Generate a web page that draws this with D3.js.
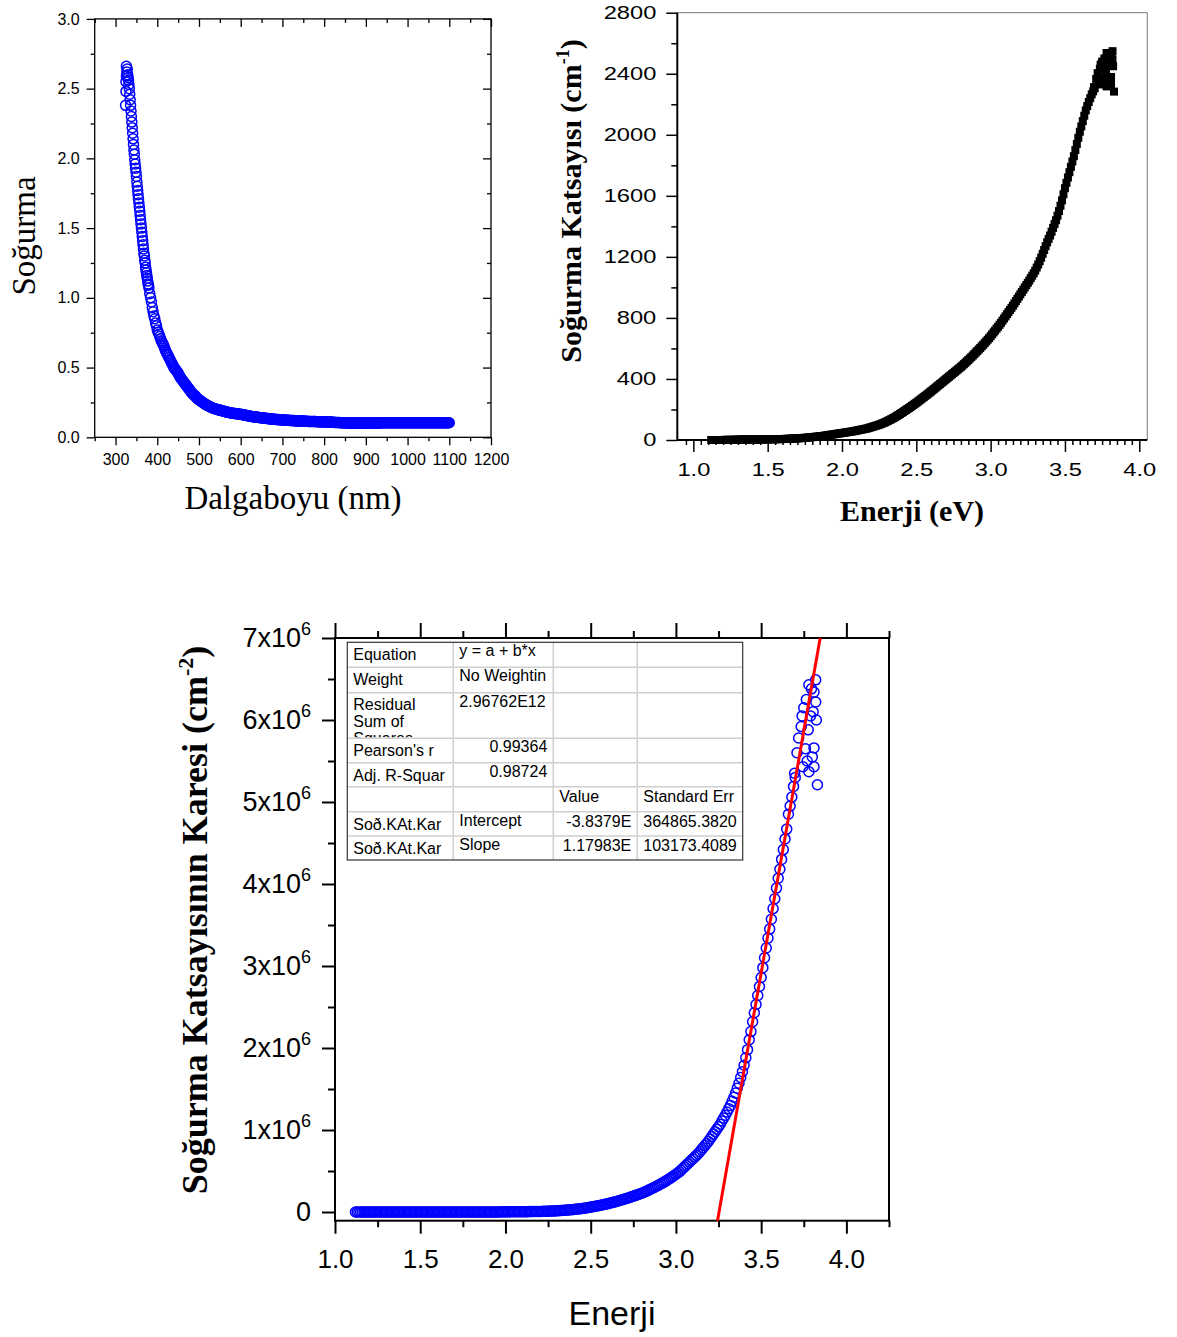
<!DOCTYPE html>
<html>
<head>
<meta charset="utf-8">
<script src="https://cdnjs.cloudflare.com/ajax/libs/d3/7.8.5/d3.min.js"></script>
<style>
body { margin: 0; background: #fff; }
svg { display: block; }
</style>
</head>
<body>
<svg id="chart" width="1177" height="1337"></svg>
<script>
/* ---- top left: absorbance (Soğurma) vs wavelength ---- */
var wavelength = [
  324,325,325,326,326,327,328,329,
  330,331,332,333,334,335,336,337,338,339,
  340,341,342,343,344,345,346,347,348,349,
  350,351,352,353,354,355,356,357,358,359,
  360,361,362,363,364,365,366,367,368,369,
  370,371,372,373,374,375,376,377,378,379,
  380,382,384,386,388,390,392,394,396,398,400,
  402,404,406,408,410,412,414,416,418,420,
  422,424,426,428,430,432,434,436,438,440,
  442,444,446,448,450,452,454,456,458,460,
  462,464,466,468,470,472,474,476,478,480,
  482,484,486,488,490,492,494,496,498,500,
  502,504,506,508,510,512,514,516,518,520,
  522,524,526,528,530,532,534,536,538,540,
  542,544,546,548,550,552,554,556,558,560,
  562,564,566,568,570,572,574,576,578,580,
  582,584,586,588,590,592,594,596,598,600,
  602,604,606,608,610,612,614,616,618,620,
  622,624,626,628,630,632,634,636,638,640,
  642,644,646,648,650,652,654,656,658,660,
  662,664,666,668,670,672,674,676,678,680,
  682,684,686,688,690,692,694,696,698,700,
  702,704,706,708,710,712,714,716,718,720,
  722,724,726,728,730,732,734,736,738,740,
  742,744,746,748,750,752,754,756,758,760,
  762,764,766,768,770,772,774,776,778,780,
  782,784,786,788,790,792,794,796,798,800,
  802,804,806,808,810,812,814,816,818,820,
  822,824,826,828,830,832,834,836,838,840,
  842,844,846,848,850,852,854,856,858,860,
  862,864,866,868,870,872,874,876,878,880,
  882,884,886,888,890,892,894,896,898,900,
  902,904,906,908,910,912,914,916,918,920,
  922,924,926,928,930,932,934,936,938,940,
  942,944,946,948,950,952,954,956,958,960,
  962,964,966,968,970,972,974,976,978,980,
  982,984,986,988,990,992,994,996,998,1000,
  1002,1004,1006,1008,1010,1012,1014,1016,1018,1020,
  1022,1024,1026,1028,1030,1032,1034,1036,1038,1040,
  1042,1044,1046,1048,1050,1052,1054,1056,1058,1060,
  1062,1064,1066,1068,1070,1072,1074,1076,1078,1080,
  1082,1084,1086,1088,1090,1092,1094,1096,1098,1100
];
var absorbance = [
  2.38,2.48,2.55,2.59,2.66,2.62,2.64,2.60,
  2.58,2.56,2.53,2.50,2.46,2.42,2.38,2.34,2.30,2.26,
  2.22,2.18,2.14,2.10,2.06,2.03,1.99,1.96,1.93,1.90,
  1.87,1.83,1.80,1.77,1.74,1.71,1.68,1.65,1.62,1.59,
  1.56,1.53,1.50,1.47,1.44,1.41,1.38,1.35,1.32,1.30,
  1.27,1.25,1.22,1.20,1.18,1.16,1.14,1.12,1.10,1.09,
  1.07,1.03,1.00,0.97,0.93,0.90,0.87,0.85,0.82,0.80,0.77,
  0.754,0.738,0.722,0.706,0.690,0.678,0.666,0.652,0.636,0.620,
  0.608,0.596,0.584,0.572,0.560,0.548,0.536,0.524,0.512,0.500,
  0.492,0.484,0.476,0.468,0.460,0.448,0.436,0.426,0.418,0.410,
  0.402,0.394,0.386,0.378,0.370,0.362,0.354,0.346,0.338,0.330,
  0.322,0.314,0.308,0.304,0.300,0.292,0.284,0.278,0.274,0.270,
  0.265,0.260,0.256,0.252,0.248,0.244,0.240,0.236,0.232,0.229,
  0.226,0.223,0.220,0.217,0.214,0.212,0.209,0.207,0.205,0.203,
  0.201,0.200,0.198,0.196,0.195,0.193,0.192,0.190,0.188,0.187,
  0.185,0.184,0.182,0.180,0.179,0.178,0.176,0.175,0.174,0.173,
  0.172,0.171,0.171,0.170,0.169,0.168,0.167,0.166,0.166,0.165,
  0.164,0.163,0.161,0.160,0.159,0.158,0.157,0.155,0.154,0.153,
  0.152,0.151,0.149,0.148,0.148,0.147,0.146,0.145,0.145,0.144,
  0.143,0.142,0.141,0.141,0.140,0.139,0.138,0.138,0.137,0.136,
  0.135,0.134,0.134,0.133,0.132,0.132,0.131,0.131,0.130,0.130,
  0.129,0.128,0.128,0.127,0.127,0.126,0.126,0.126,0.125,0.125,
  0.124,0.124,0.124,0.123,0.123,0.122,0.122,0.122,0.121,0.121,
  0.120,0.120,0.120,0.119,0.119,0.118,0.118,0.118,0.117,0.117,
  0.117,0.116,0.116,0.116,0.116,0.115,0.115,0.115,0.115,0.115,
  0.114,0.114,0.114,0.114,0.114,0.113,0.113,0.113,0.113,0.113,
  0.112,0.112,0.112,0.112,0.112,0.111,0.111,0.111,0.111,0.111,
  0.110,0.110,0.110,0.110,0.110,0.109,0.109,0.109,0.108,0.108,
  0.108,0.108,0.107,0.107,0.107,0.106,0.106,0.106,0.105,0.105,
  0.105,0.105,0.104,0.104,0.104,0.103,0.103,0.103,0.103,0.103,
  0.102,0.102,0.102,0.102,0.102,0.102,0.102,0.102,0.102,0.102,
  0.102,0.102,0.102,0.102,0.102,0.102,0.102,0.102,0.102,0.102,
  0.102,0.102,0.103,0.103,0.103,0.103,0.103,0.103,0.103,0.103,
  0.103,0.103,0.103,0.103,0.103,0.103,0.103,0.104,0.104,0.104,
  0.104,0.104,0.104,0.104,0.104,0.104,0.104,0.104,0.104,0.104,
  0.104,0.104,0.104,0.104,0.104,0.104,0.104,0.104,0.104,0.104,
  0.104,0.104,0.104,0.104,0.104,0.104,0.104,0.104,0.104,0.104,
  0.104,0.104,0.104,0.104,0.104,0.104,0.104,0.104,0.104,0.104,
  0.104,0.104,0.104,0.104,0.104,0.104,0.104,0.104,0.104,0.104,
  0.104,0.104,0.104,0.104,0.104,0.104,0.104,0.104,0.104,0.104,
  0.104,0.104,0.104,0.104,0.104,0.104,0.104,0.104,0.104,0.104,
  0.104,0.104,0.104,0.104,0.104,0.104,0.104,0.104,0.104,0.104
];
var wlTicks = [300,400,500,600,700,800,900,1000,1100,1200];
var wlMinor = [250,350,450,550,650,750,850,950,1050,1150];
var absTicks = [0,0.5,1.0,1.5,2.0,2.5,3.0];
var absMinor = [0.25,0.75,1.25,1.75,2.25,2.75];

/* ---- photon energy of the same measurement (eV), used by both lower-energy plots ---- */
var energy = [
  1.12,1.13,1.14,1.15,1.16,1.17,1.18,1.19,1.20,1.21,
  1.22,1.23,1.24,1.25,1.26,1.27,1.28,1.29,1.30,1.31,
  1.32,1.33,1.34,1.35,1.36,1.37,1.38,1.39,1.40,1.41,
  1.42,1.43,1.44,1.45,1.46,1.47,1.48,1.49,1.50,1.51,
  1.52,1.53,1.54,1.55,1.56,1.57,1.58,1.59,1.60,1.61,
  1.62,1.63,1.64,1.65,1.66,1.67,1.68,1.69,1.70,1.71,
  1.72,1.73,1.74,1.75,1.76,1.77,1.78,1.79,1.80,1.81,
  1.82,1.83,1.84,1.85,1.86,1.87,1.88,1.89,1.90,1.91,
  1.92,1.93,1.94,1.95,1.96,1.97,1.98,1.99,2.00,2.01,
  2.02,2.03,2.04,2.05,2.06,2.07,2.08,2.09,2.10,2.11,
  2.12,2.13,2.14,2.15,2.16,2.17,2.18,2.19,2.20,2.21,
  2.22,2.23,2.24,2.25,2.26,2.27,2.28,2.29,2.30,2.31,
  2.32,2.33,2.34,2.35,2.36,2.37,2.38,2.39,2.40,2.41,
  2.42,2.43,2.44,2.45,2.46,2.47,2.48,2.49,2.50,2.51,
  2.52,2.53,2.54,2.55,2.56,2.57,2.58,2.59,2.60,2.61,
  2.62,2.63,2.64,2.65,2.66,2.67,2.68,2.69,2.70,2.71,
  2.72,2.73,2.74,2.75,2.76,2.77,2.78,2.79,2.80,2.81,
  2.82,2.83,2.84,2.85,2.86,2.87,2.88,2.89,2.90,2.91,
  2.92,2.93,2.94,2.95,2.96,2.97,2.98,2.99,3.00,3.01,
  3.02,3.03,3.04,3.05,3.06,3.07,3.08,3.09,3.10,3.11,
  3.12,3.13,3.14,3.15,3.16,3.17,3.18,3.19,3.20,3.21,
  3.22,3.23,3.24,3.25,3.26,3.27,3.28,3.29,3.30,3.31,
  3.32,3.33,3.34,3.35,3.36,3.37,3.38,3.39,3.40,3.41,
  3.42,3.43,3.44,3.45,3.46,3.47,3.48,3.49,3.50,3.51,
  3.52,3.53,3.54,3.55,3.56,3.57,3.58,3.59,3.60,3.61,
  3.62,3.63,3.64,3.65,3.66,3.67,3.68,3.69,3.70,
  3.696,3.71,3.72,3.735,3.745,3.75,3.76,3.776,3.78,3.78,
  3.79,3.80,3.81,3.81,3.81,3.82,3.82,3.824,3.83,3.74,
  3.765,3.795,3.805,3.77
];

/* ---- top right: absorption coefficient (cm^-1) ---- */
var alpha = [
  0,0,0,0,0,0,0,0,0,1,
  1,1,1,1,1,1,2,2,2,2,
  3,3,4,4,4,3,3,3,3,3,
  3,3,3,3,4,4,4,4,4,5,
  5,5,5,5,5,6,6,6,6,7,
  7,8,8,8,9,9,10,10,11,11,
  12,13,14,14,15,16,17,18,19,20,
  21,22,23,24,25,26,28,29,31,32,
  34,35,37,38,40,41,43,44,46,47,
  49,50,52,53,55,56,58,60,62,64,
  66,68,70,72,74,76,79,82,85,88,
  91,94,97,100,104,108,112,116,121,126,
  131,136,141,146,152,158,164,170,177,183,
  190,196,203,209,216,223,230,237,244,251,
  259,266,274,281,289,296,304,311,319,327,
  335,343,351,359,367,375,383,391,399,407,
  415,423,431,439,447,455,463,471,479,488,
  497,506,515,524,534,543,553,563,573,583,
  593,603,614,624,635,646,657,668,680,692,
  705,717,730,742,755,768,782,796,810,824,
  838,852,866,880,895,910,925,940,955,970,
  985,1000,1015,1030,1045,1061,1077,1093,1110,1130,
  1150,1172,1195,1220,1245,1270,1295,1318,1340,1365,
  1390,1415,1440,1470,1500,1535,1570,1610,1650,1685,
  1720,1755,1790,1825,1860,1900,1940,1980,2020,2055,
  2090,2125,2160,2188,2215,2240,2265,2285,2305,
  2313,2366,2404,2433,2330,2480,2377,2425,2536,2317,
  2460,2356,2518,2379,2330,2548,2494,2449,2283,2460,
  2500,2526,2470,2345
];
var eTicksA = [1.0,1.5,2.0,2.5,3.0,3.5,4.0];
var alphaTicks = [0,400,800,1200,1600,2000,2400,2800];
var alphaMinor = [200,600,1000,1400,1800,2200,2600];

/* ---- bottom: square of absorption coefficient (x10^6 cm^-2) ---- */
var alphaSq = [
  0,0,0,0,0,0,0,0,0,0,
  0,0,0,0,0,0,0,0,0,0,
  0,0,0,0,0,0,0,0,0,0,
  0,0,0,0,0,0,0,0,0,0,
  0,0,0,0,0,0,0,0,0,0,
  0.0001,0.0001,0.0001,0.0001,0.0001,0.0001,0.0001,0.0001,0.0001,0.0001,
  0.0001,0.0002,0.0002,0.0002,0.0002,0.0003,0.0003,0.0003,0.0004,0.0004,
  0.0004,0.0005,0.0005,0.0006,0.0006,0.0007,0.0008,0.0008,0.0009,0.001,
  0.0012,0.0012,0.0014,0.0014,0.0016,0.0017,0.0018,0.0019,0.0021,0.0022,
  0.0024,0.0025,0.0027,0.0028,0.003,0.0031,0.0034,0.0036,0.0038,0.0041,
  0.0044,0.0046,0.0049,0.0052,0.0055,0.0058,0.0062,0.0067,0.0072,0.0077,
  0.0083,0.0088,0.0094,0.010,0.011,0.012,0.013,0.013,0.015,0.016,
  0.017,0.018,0.020,0.021,0.023,0.025,0.027,0.029,0.031,0.033,
  0.036,0.038,0.041,0.044,0.047,0.050,0.053,0.056,0.060,0.063,
  0.067,0.071,0.075,0.079,0.083,0.088,0.092,0.097,0.102,0.107,
  0.112,0.118,0.123,0.129,0.135,0.141,0.147,0.153,0.160,0.166,
  0.172,0.179,0.186,0.193,0.200,0.207,0.215,0.222,0.230,0.239,
  0.248,0.257,0.267,0.277,0.287,0.297,0.308,0.319,0.330,0.341,
  0.353,0.365,0.377,0.390,0.403,0.417,0.430,0.445,0.460,0.475,
  0.49,0.51,0.53,0.55,0.57,0.59,0.61,0.63,0.65,0.67,
  0.69,0.71,0.735,0.76,0.785,0.81,0.835,0.86,0.89,0.92,
  0.95,0.98,1.01,1.04,1.07,1.11,1.145,1.18,1.22,1.26,
  1.30,1.35,1.40,1.45,1.51,1.57,1.64,1.71,1.79,1.88,
  1.98,2.10,2.20,2.32,2.43,2.53,2.64,2.75,2.86,2.98,
  3.10,3.22,3.34,3.45,3.57,3.70,3.82,3.95,4.07,4.18,
  4.30,4.42,4.55,4.67,4.85,4.95,5.06,5.19,5.30,
  5.35,5.60,5.78,5.92,5.43,6.15,5.65,5.88,6.43,5.37,
  6.05,5.55,6.34,5.66,5.43,6.49,6.22,6.00,5.21,6.05,
  6.25,6.38,6.10,5.50
];
var fitIntercept = -3.8379e7;
var fitSlope = 1.17983e7;
var eTicksB = [1.0,1.5,2.0,2.5,3.0,3.5,4.0];
var eMinorB = [1.25,1.75,2.25,2.75,3.25,3.75,4.25];
var sqTicks = [0,1,2,3,4,5,6,7];
var sqMinor = [0.5,1.5,2.5,3.5,4.5,5.5,6.5];
var fitTable = [
  ["Equation", "y = a + b*x", "", ""],
  ["Weight", "No Weightin", "", ""],
  ["Residual|Sum of|Squares", "2.96762E12", "", ""],
  ["Pearson's r", "0.99364", "", ""],
  ["Adj. R-Squar", "0.98724", "", ""],
  ["", "", "Value", "Standard Err"],
  ["Soð.KAt.Kar", "Intercept", "-3.8379E", "364865.3820"],
  ["Soð.KAt.Kar", "Slope", "1.17983E", "103173.4089"]
];

var SANS = '"Liberation Sans", Arial, sans-serif';
var SERIF = '"Liberation Serif", "Times New Roman", serif';
var svg = d3.select("#chart");

function styleAxis(sel, size, width) {
  sel.select(".domain").remove();
  sel.selectAll(".tick line").attr("stroke", "#000").attr("stroke-width", width);
  sel.selectAll(".tick text").attr("fill", "#000").attr("font-size", size).attr("font-family", SANS);
}

/* ================= chart 1 ================= */
var x1 = d3.scaleLinear().domain([250, 1200]).range([94.7, 491]);
var y1 = d3.scaleLinear().domain([0, 3]).range([437.3, 18.9]);
var g1 = svg.append("g");

g1.append("g").attr("transform", "translate(0," + y1(0) + ")")
  .call(d3.axisBottom(x1).tickValues(wlMinor).tickSize(4).tickFormat(""))
  .call(styleAxis, 16, 1.3);
g1.append("g").attr("transform", "translate(0," + y1(0) + ")")
  .call(d3.axisBottom(x1).tickValues(wlTicks).tickSize(8).tickPadding(8).tickFormat(d3.format("d")))
  .call(styleAxis, 16, 1.3);
g1.append("g").attr("transform", "translate(0," + y1(3) + ")")
  .call(d3.axisTop(x1).tickValues(wlMinor).tickSize(-4).tickFormat(""))
  .call(styleAxis, 16, 1.3);
g1.append("g").attr("transform", "translate(0," + y1(3) + ")")
  .call(d3.axisTop(x1).tickValues(wlTicks).tickSize(-8).tickFormat(""))
  .call(styleAxis, 16, 1.3);
g1.append("g").attr("transform", "translate(" + x1(250) + ",0)")
  .call(d3.axisLeft(y1).tickValues(absMinor).tickSize(4).tickFormat(""))
  .call(styleAxis, 16, 1.3);
g1.append("g").attr("transform", "translate(" + x1(250) + ",0)")
  .call(d3.axisLeft(y1).tickValues(absTicks).tickSize(8).tickPadding(7).tickFormat(d3.format(".1f")))
  .call(styleAxis, 16, 1.3);
g1.append("g").attr("transform", "translate(" + x1(1200) + ",0)")
  .call(d3.axisRight(y1).tickValues(absMinor).tickSize(-4).tickFormat(""))
  .call(styleAxis, 16, 1.3);
g1.append("g").attr("transform", "translate(" + x1(1200) + ",0)")
  .call(d3.axisRight(y1).tickValues(absTicks).tickSize(-8).tickFormat(""))
  .call(styleAxis, 16, 1.3);

g1.append("rect")
  .attr("x", x1(250)).attr("y", y1(3))
  .attr("width", x1(1200) - x1(250)).attr("height", y1(0) - y1(3))
  .attr("fill", "none").attr("stroke", "#000").attr("stroke-width", 1.3);

g1.append("g").selectAll("circle")
  .data(wavelength)
  .enter().append("circle")
  .attr("cx", function(d) { return x1(d); })
  .attr("cy", function(d, i) { return y1(absorbance[i]); })
  .attr("r", 5)
  .attr("fill", "none")
  .attr("stroke", "#0000ff")
  .attr("stroke-width", 1.5);

g1.append("text")
  .attr("transform", "translate(35,236) rotate(-90)")
  .attr("text-anchor", "middle")
  .attr("font-family", SERIF).attr("font-size", 33)
  .text("Soğurma");
g1.append("text")
  .attr("x", 293).attr("y", 509)
  .attr("text-anchor", "middle")
  .attr("font-family", SERIF).attr("font-size", 33)
  .text("Dalgaboyu (nm)");

/* ================= chart 2 ================= */
var x2 = d3.scaleLinear().domain([0.892, 4.054]).range([677.3, 1147.3]);
var y2 = d3.scaleLinear().domain([0, 2800]).range([440, 12.7]);
var g2 = svg.append("g");
var eMinorA = [0.95];
eTicksA.forEach(function(t) { for (var k = 1; k < 10; k++) if (t < 4) eMinorA.push(t + k * 0.05); });

function stretch(sel) {
  sel.selectAll(".tick text").each(function() {
    var w = this.getComputedTextLength();
    d3.select(this).attr("textLength", w * 1.28).attr("lengthAdjust", "spacingAndGlyphs");
  });
}

// thin frame on top and right
g2.append("path")
  .attr("d", "M" + x2.range()[0] + "," + y2(2800) + "H" + x2.range()[1] + "V" + y2(0))
  .attr("fill", "none").attr("stroke", "#7a7a7a").attr("stroke-width", 1);

g2.append("g").attr("transform", "translate(0," + y2(0) + ")")
  .call(d3.axisBottom(x2).tickValues(eMinorA).tickSize(5).tickFormat(""))
  .call(styleAxis, 18.5, 1.5);
g2.append("g").attr("transform", "translate(0," + y2(0) + ")")
  .call(d3.axisBottom(x2).tickValues(eTicksA).tickSize(12).tickPadding(11).tickFormat(d3.format(".1f")))
  .call(styleAxis, 18.5, 1.5)
  .call(stretch);
g2.append("g").attr("transform", "translate(" + x2.range()[0] + ",0)")
  .call(d3.axisLeft(y2).tickValues(alphaMinor).tickSize(6).tickFormat(""))
  .call(styleAxis, 18.5, 1.5);
g2.append("g").attr("transform", "translate(" + x2.range()[0] + ",0)")
  .call(d3.axisLeft(y2).tickValues(alphaTicks).tickSize(11).tickPadding(10).tickFormat(d3.format("d")))
  .call(styleAxis, 18.5, 1.5)
  .call(stretch);

g2.append("path")
  .attr("d", "M" + x2.range()[0] + "," + y2(2800) + "V" + y2(0) + "H" + x2.range()[1])
  .attr("fill", "none").attr("stroke", "#000").attr("stroke-width", 2);

g2.append("g").selectAll("rect")
  .data(energy)
  .enter().append("rect")
  .attr("x", function(d) { return x2(d) - 4; })
  .attr("y", function(d, i) { return y2(alpha[i]) - 4; })
  .attr("width", 8).attr("height", 8)
  .attr("fill", "#000");

var yl2 = g2.append("text")
  .attr("transform", "translate(581,201) rotate(-90)")
  .attr("text-anchor", "middle")
  .attr("font-family", SERIF).attr("font-size", 30).attr("font-weight", "bold");
yl2.append("tspan").text("Soğurma Katsayısı (cm");
yl2.append("tspan").attr("dy", -12).attr("font-size", 18).text("-1");
yl2.append("tspan").attr("dy", 12).text(")");

g2.append("text")
  .attr("x", 912).attr("y", 521)
  .attr("text-anchor", "middle")
  .attr("font-family", SERIF).attr("font-size", 30).attr("font-weight", "bold")
  .text("Enerji (eV)");

/* ================= chart 3 ================= */
var x3 = d3.scaleLinear().domain([1.0, 4.25]).range([335, 889]);
var y3 = d3.scaleLinear().domain([-0.106, 7]).range([1220.7, 638]);
var g3 = svg.append("g");

g3.append("g").attr("transform", "translate(0," + y3.range()[0] + ")")
  .call(d3.axisBottom(x3).tickValues(eMinorB).tickSize(6.5).tickFormat(""))
  .call(styleAxis, 26, 2);
g3.append("g").attr("transform", "translate(0," + y3.range()[0] + ")")
  .call(d3.axisBottom(x3).tickValues(eTicksB).tickSize(13).tickPadding(16).tickFormat(d3.format(".1f")))
  .call(styleAxis, 26, 2);
g3.append("g").attr("transform", "translate(0," + y3.range()[1] + ")")
  .call(d3.axisTop(x3).tickValues(eMinorB).tickSize(7).tickFormat(""))
  .call(styleAxis, 26, 2);
g3.append("g").attr("transform", "translate(0," + y3.range()[1] + ")")
  .call(d3.axisTop(x3).tickValues(eTicksB).tickSize(15).tickFormat(""))
  .call(styleAxis, 26, 2);
g3.append("g").attr("transform", "translate(" + x3.range()[0] + ",0)")
  .call(d3.axisLeft(y3).tickValues(sqMinor).tickSize(7).tickFormat(""))
  .call(styleAxis, 26, 2);
var yAx3 = g3.append("g").attr("transform", "translate(" + x3.range()[0] + ",0)")
  .call(d3.axisLeft(y3).tickValues(sqTicks).tickSize(13).tickPadding(11))
  .call(styleAxis, 27, 2);
yAx3.selectAll(".tick text").each(function(d) {
  var t = d3.select(this).text(null);
  if (d === 0) { t.text("0"); return; }
  t.append("tspan").text(d + "x10");
  t.append("tspan").attr("dy", -12).attr("font-size", 18).text("6");
});

g3.append("rect")
  .attr("x", x3.range()[0]).attr("y", y3.range()[1])
  .attr("width", x3.range()[1] - x3.range()[0]).attr("height", y3.range()[0] - y3.range()[1])
  .attr("fill", "none").attr("stroke", "#000").attr("stroke-width", 2);

g3.append("g").selectAll("circle")
  .data(energy)
  .enter().append("circle")
  .attr("cx", function(d) { return x3(d); })
  .attr("cy", function(d, i) { return y3(alphaSq[i]); })
  .attr("r", 5)
  .attr("fill", "none")
  .attr("stroke", "#0000ff")
  .attr("stroke-width", 1.5);

/* linear fit y = a + b*x, drawn across the plot height */
var fitPts = y3.domain().map(function(v) {
  return [(v * 1e6 - fitIntercept) / fitSlope, v];
});
g3.append("path")
  .datum(fitPts)
  .attr("d", d3.line().x(function(d) { return x3(d[0]); }).y(function(d) { return y3(d[1]); }))
  .attr("fill", "none").attr("stroke", "#ff0000").attr("stroke-width", 3);

/* fit results table */
var tCols = [347.3, 453.3, 553.3, 637.3, 742.7];
var tRows = [642.3, 667.3, 692.7, 738.3, 762.7, 786.7, 811.7, 836, 860];
var tab = g3.append("g").attr("font-family", SANS).attr("font-size", 16).attr("fill", "#000");
tab.append("defs").append("clipPath").attr("id", "resClip")
  .append("rect").attr("x", tCols[0]).attr("y", tRows[2]).attr("width", tCols[1] - tCols[0]).attr("height", tRows[3] - tRows[2] - 1);
tab.append("rect")
  .attr("x", tCols[0]).attr("y", tRows[0])
  .attr("width", tCols[4] - tCols[0]).attr("height", tRows[8] - tRows[0])
  .attr("fill", "#fff");
tRows.slice(1, -1).forEach(function(r) {
  tab.append("line").attr("x1", tCols[0]).attr("x2", tCols[4]).attr("y1", r).attr("y2", r)
    .attr("stroke", "#cfcfcf").attr("stroke-width", 1.5);
});
tCols.slice(1, -1).forEach(function(c) {
  tab.append("line").attr("x1", c).attr("x2", c).attr("y1", tRows[0]).attr("y2", tRows[8])
    .attr("stroke", "#cfcfcf").attr("stroke-width", 1.5);
});
tab.append("rect")
  .attr("x", tCols[0]).attr("y", tRows[0])
  .attr("width", tCols[4] - tCols[0]).attr("height", tRows[8] - tRows[0])
  .attr("fill", "none").attr("stroke", "#333").attr("stroke-width", 1.2);

fitTable.forEach(function(row, ri) {
  row.forEach(function(cell, ci) {
    if (!cell) return;
    var top = tRows[ri];
    var right = (ci === 1 && (ri === 3 || ri === 4)) || (ci === 2 && ri > 5);
    var off = ci === 0 ? 18 : (ci === 1 ? 14 : 15);
    var t = tab.append("text")
      .attr("x", right ? tCols[ci + 1] - 6 : tCols[ci] + 6)
      .attr("y", top + off)
      .attr("text-anchor", right ? "end" : "start");
    if (cell.indexOf("|") >= 0) {
      t.attr("clip-path", "url(#resClip)").attr("y", top + 17);
      cell.split("|").forEach(function(s, k) {
        t.append("tspan").attr("x", tCols[ci] + 6).attr("dy", k ? 17 : 0).text(s);
      });
    } else {
      t.text(cell);
    }
  });
});

var yl3 = g3.append("text")
  .attr("transform", "translate(207,920) rotate(-90)")
  .attr("text-anchor", "middle")
  .attr("font-family", SERIF).attr("font-size", 36).attr("font-weight", "bold");
yl3.append("tspan").text("Soğurma Katsayısının Karesi (cm");
yl3.append("tspan").attr("dy", -14).attr("font-size", 22).text("-2");
yl3.append("tspan").attr("dy", 14).text(")");

g3.append("text")
  .attr("x", 612).attr("y", 1325)
  .attr("text-anchor", "middle")
  .attr("font-family", SANS).attr("font-size", 34)
  .text("Enerji");
</script>
</body>
</html>
